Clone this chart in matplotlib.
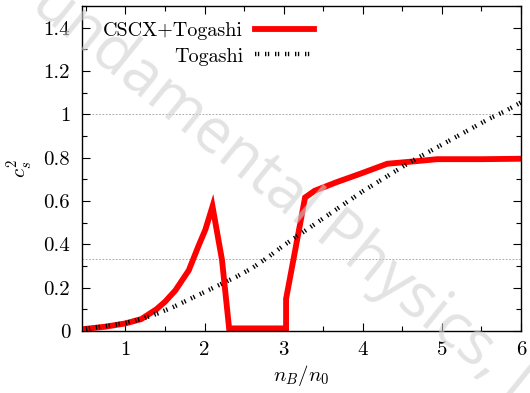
import matplotlib
matplotlib.use("Agg")
import matplotlib.pyplot as plt
from matplotlib.ticker import MultipleLocator, FixedLocator

plt.rcParams['font.family'] = ['cmr10', 'DejaVu Serif']
plt.rcParams['mathtext.fontset'] = 'cm'
plt.rcParams['axes.formatter.use_mathtext'] = True

# CSCX+Togashi
nb_cscx = [0.5, 0.75, 1.0, 1.2, 1.39, 1.5, 1.63, 1.8, 1.92, 2.01, 2.10,
           2.22, 2.31, 3.03, 3.03, 3.27, 3.39, 3.67, 3.97, 4.31, 4.65,
           4.94, 5.5, 6.0]
cs2_cscx = [0.01, 0.02, 0.035, 0.055, 0.10, 0.135, 0.187, 0.28, 0.39, 0.468,
            0.575, 0.328, 0.012, 0.012, 0.148, 0.616, 0.647, 0.687, 0.726,
            0.772, 0.783, 0.793, 0.793, 0.795]

# Togashi
nb_tog = [0.5, 0.8, 1.0, 1.2, 1.4, 1.6, 1.8, 2.0, 2.2, 2.4, 2.6, 2.8, 3.0,
          3.2, 3.4, 3.6, 3.8, 4.0, 4.2, 4.4, 4.6, 4.8, 5.0, 5.2, 5.4, 5.6,
          5.8, 6.0]
cs2_tog = [0.01, 0.025, 0.037, 0.055, 0.08, 0.11, 0.145, 0.18, 0.215, 0.25,
           0.29, 0.34, 0.395, 0.445, 0.495, 0.545, 0.595, 0.645, 0.69, 0.735,
           0.78, 0.82, 0.86, 0.90, 0.94, 0.98, 1.015, 1.055]

ref_levels = [1.0, 1.0 / 3.0]

xticks = [1, 2, 3, 4, 5, 6]
xlabels = ['1', '2', '3', '4', '5', '6']
yticks = [0, 0.2, 0.4, 0.6, 0.8, 1.0, 1.2, 1.4]
ylabels = ['0', '0.2', '0.4', '0.6', '0.8', '1', '1.2', '1.4']

fig = plt.figure(figsize=(5.3, 3.93), dpi=100)
ax = fig.add_axes([0.1547, 0.1578, 0.8283, 0.8269])

for lv in ref_levels:
    ax.axhline(lv, color='#999999', lw=0.6, ls=(0, (2, 2)), zorder=1)

ax.plot(nb_cscx, cs2_cscx, color='#ff0000', lw=4.2, solid_joinstyle='miter',
        label='CSCX+Togashi', zorder=2)
ax.plot(nb_tog, cs2_tog, color='black', lw=3.2, ls=(0, (0.3, 0.35, 0.3, 1.3)),
        label='Togashi', zorder=3)

ax.set_xlim(0.45, 6)
ax.set_ylim(0, 1.5)
ax.xaxis.set_major_locator(FixedLocator(xticks))
ax.set_xticklabels(xlabels)
ax.yaxis.set_major_locator(FixedLocator(yticks))
ax.set_yticklabels(ylabels)
ax.xaxis.set_minor_locator(MultipleLocator(0.5))
ax.yaxis.set_minor_locator(MultipleLocator(0.1))
ax.tick_params(which='both', direction='in', top=True, right=True,
               labelsize=15, width=0.8)
ax.tick_params(which='major', length=6)
ax.tick_params(axis='x', which='major', pad=7)
ax.tick_params(axis='y', which='major', pad=8.5)
ax.tick_params(which='minor', length=3.5)
for sp in ax.spines.values():
    sp.set_linewidth(1.0)

ax.set_xlabel('$n_B/n_0$', fontsize=15, labelpad=3)
ax.set_ylabel('$c_s^2$', fontsize=15, labelpad=6)

ax.legend(loc='upper right', bbox_to_anchor=(0.528, 0.95), frameon=False,
          markerfirst=False, fontsize=14.5, handlelength=2.9,
          handletextpad=0.6, labelspacing=0.35, borderpad=0, borderaxespad=0)

# watermark on top
fig.text(0.508, 0.539, 'Fundamental Physics, I', fontsize=44.5, color='#d0d0d0',
         alpha=0.6, family='Open Sans', rotation=-39, ha='center',
         va='center', rotation_mode='anchor', zorder=10)

fig.savefig('out.png', dpi=100)
